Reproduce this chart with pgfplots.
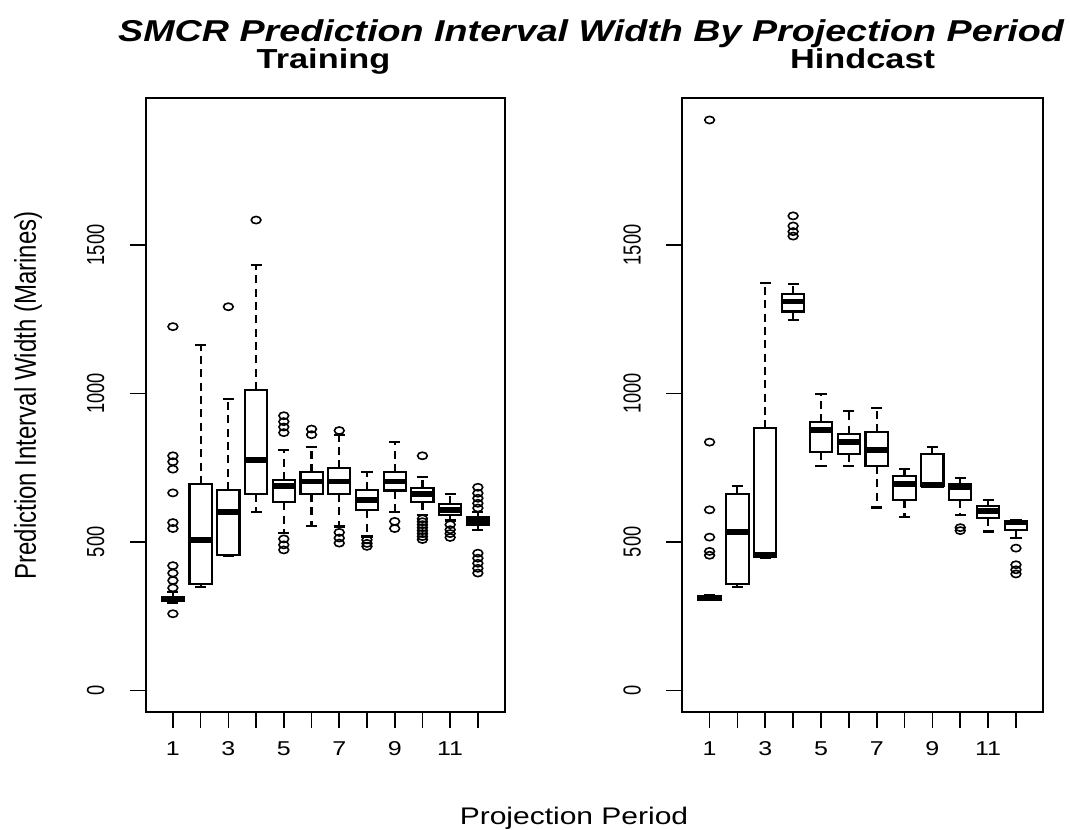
\documentclass[border=0pt]{standalone}
\usepackage{fontspec}
\setmainfont{Liberation Sans}[FakeStretch=1.25]
\newfontfamily\rotfont{Liberation Sans}[FakeStretch=0.8]
\newfontfamily\rottick{Liberation Sans}[FakeStretch=0.74]
\usepackage{pgfplots}
\pgfplotsset{compat=1.18}
\usepgfplotslibrary{statistics}
\pgfplotsset{
  rbox/.style={black, solid, line width=1.6pt,
    boxplot/draw direction=y,
    boxplot/box extend=0.8, boxplot/whisker extend=0.4,
    boxplot/draw/median/.code={\draw[line width=4.2pt] (boxplot box cs:\pgfplotsboxplotvalue{median},0) -- (boxplot box cs:\pgfplotsboxplotvalue{median},1);},
    boxplot/draw/lower whisker/.code={\draw[dash pattern=on 6pt off 4pt] (boxplot cs:\pgfplotsboxplotvalue{lower quartile}) -- (boxplot cs:\pgfplotsboxplotvalue{lower whisker}); \draw (boxplot whisker cs:\pgfplotsboxplotvalue{lower whisker},0) -- (boxplot whisker cs:\pgfplotsboxplotvalue{lower whisker},1);},
    boxplot/draw/upper whisker/.code={\draw[dash pattern=on 6pt off 4pt] (boxplot cs:\pgfplotsboxplotvalue{upper quartile}) -- (boxplot cs:\pgfplotsboxplotvalue{upper whisker}); \draw (boxplot whisker cs:\pgfplotsboxplotvalue{upper whisker},0) -- (boxplot whisker cs:\pgfplotsboxplotvalue{upper whisker},1);},
  },
  rout/.style={only marks, mark=o, black, mark size=2.7pt, mark options={solid, line width=1.2pt, xscale=1.35}},
  rax/.style={anchor=south west, width=269.5pt, height=460.5pt, scale only axis,
    xmin=0.02, xmax=12.98, ymin=-72, ymax=1996,
    xtick={1,...,12}, xticklabels={1,,3,,5,,7,,9,,11,},
    ytick={0,500,1000,1500},
    tick align=outside, tick pos=left, major tick length=12pt,
    tick style={black, line width=1.2pt},
    axis line style={line width=1.6pt},
    /pgf/number format/assume math mode=true,
    /pgf/number format/1000 sep={},
    xticklabel shift=7pt, yticklabel shift=15.5pt,
    xticklabel style={font=\fontsize{15pt}{17pt}\selectfont},
    yticklabel style={rotate=90, anchor=south, font=\rottick\fontsize{18.5pt}{21pt}\selectfont},
    clip=false},
}
\begin{document}
\begin{tikzpicture}
\path[use as bounding box] (0,0) rectangle (802.5pt,622.5pt);
% Training
\begin{axis}[rax, at={(109.3pt,88.7pt)}]
\addplot[rbox, boxplot prepared={draw position=1, lower whisker=295, lower quartile=300, median=308, upper quartile=315, upper whisker=330}] coordinates {};
\addplot[rbox, boxplot prepared={draw position=2, lower whisker=348, lower quartile=358, median=506, upper quartile=695, upper whisker=1163}] coordinates {};
\addplot[rbox, boxplot prepared={draw position=3, lower whisker=452, lower quartile=457, median=600, upper quartile=675, upper whisker=980}] coordinates {};
\addplot[rbox, boxplot prepared={draw position=4, lower whisker=600, lower quartile=661, median=776, upper quartile=1012, upper whisker=1433}] coordinates {};
\addplot[rbox, boxplot prepared={draw position=5, lower whisker=530, lower quartile=633, median=689, upper quartile=709, upper whisker=810}] coordinates {};
\addplot[rbox, boxplot prepared={draw position=6, lower whisker=554, lower quartile=661, median=704, upper quartile=735, upper whisker=821}] coordinates {};
\addplot[rbox, boxplot prepared={draw position=7, lower whisker=552, lower quartile=661, median=704, upper quartile=748, upper whisker=860}] coordinates {};
\addplot[rbox, boxplot prepared={draw position=8, lower whisker=518, lower quartile=606, median=642, upper quartile=675, upper whisker=735}] coordinates {};
\addplot[rbox, boxplot prepared={draw position=9, lower whisker=600, lower quartile=673, median=704, upper quartile=735, upper whisker=836}] coordinates {};
\addplot[rbox, boxplot prepared={draw position=10, lower whisker=590, lower quartile=633, median=662, upper quartile=681, upper whisker=720}] coordinates {};
\addplot[rbox, boxplot prepared={draw position=11, lower whisker=572, lower quartile=591, median=608, upper quartile=627, upper whisker=661}] coordinates {};
\addplot[rbox, boxplot prepared={draw position=12, lower whisker=540, lower quartile=558, median=570, upper quartile=584, upper whisker=600}] coordinates {};
\addplot[rout] coordinates {
(1,258) (1,345) (1,370) (1,395) (1,420) (1,545) (1,565) (1,665) (1,745) (1,770) (1,790) (1,1225)
(3,1292) (4,1584)
(5,925) (5,905) (5,887) (5,868) (5,510) (5,490) (5,473)
(6,880) (6,861)
(7,875) (7,532) (7,513) (7,496)
(8,507) (8,495) (8,485)
(9,569) (9,545)
(10,790) (10,578) (10,568) (10,558) (10,548) (10,538) (10,528) (10,518) (10,508)
(11,558) (11,541) (11,528) (11,515)
(12,614) (12,630) (12,647) (12,664) (12,684) (12,462) (12,445) (12,428) (12,411) (12,395)
};
\end{axis}
% Hindcast
\begin{axis}[rax, at={(511.7pt,88.7pt)}, width=270.75pt]
\addplot[rbox, boxplot prepared={draw position=1, lower whisker=305, lower quartile=305, median=312, upper quartile=318, upper whisker=320}] coordinates {};
\addplot[rbox, boxplot prepared={draw position=2, lower whisker=347, lower quartile=358, median=533, upper quartile=661, upper whisker=687}] coordinates {};
\addplot[rbox, boxplot prepared={draw position=3, lower whisker=445, lower quartile=450, median=456, upper quartile=883, upper whisker=1371}] coordinates {};
\addplot[rbox, boxplot prepared={draw position=4, lower whisker=1248, lower quartile=1276, median=1309, upper quartile=1335, upper whisker=1369}] coordinates {};
\addplot[rbox, boxplot prepared={draw position=5, lower whisker=756, lower quartile=802, median=877, upper quartile=903, upper whisker=998}] coordinates {};
\addplot[rbox, boxplot prepared={draw position=6, lower whisker=756, lower quartile=796, median=836, upper quartile=864, upper whisker=942}] coordinates {};
\addplot[rbox, boxplot prepared={draw position=7, lower whisker=616, lower quartile=756, median=810, upper quartile=870, upper whisker=950}] coordinates {};
\addplot[rbox, boxplot prepared={draw position=8, lower whisker=584, lower quartile=642, median=696, upper quartile=723, upper whisker=746}] coordinates {};
\addplot[rbox, boxplot prepared={draw position=9, lower whisker=685, lower quartile=688, median=692, upper quartile=796, upper whisker=821}] coordinates {};
\addplot[rbox, boxplot prepared={draw position=10, lower whisker=590, lower quartile=642, median=683, upper quartile=695, upper whisker=715}] coordinates {};
\addplot[rbox, boxplot prepared={draw position=11, lower whisker=535, lower quartile=580, median=605, upper quartile=622, upper whisker=642}] coordinates {};
\addplot[rbox, boxplot prepared={draw position=12, lower whisker=513, lower quartile=541, median=565, upper quartile=570, upper whisker=572}] coordinates {};
\addplot[rout] coordinates {
(1,1921) (1,836) (1,608) (1,516) (1,468) (1,455)
(4,1598) (4,1564) (4,1545) (4,1530)
(10,548) (10,538)
(12,479) (12,423) (12,406) (12,392)
};
\end{axis}
\node[anchor=base, font=\fontsize{22.6pt}{26pt}\selectfont\bfseries\itshape] at (443.3pt,591.5pt) {SMCR Prediction Interval Width By Projection Period};
\node[anchor=base, font=\fontsize{20.6pt}{24pt}\selectfont\bfseries] at (242.6pt,571pt) {Training};
\node[anchor=base, font=\fontsize{20.6pt}{24pt}\selectfont\bfseries] at (646.9pt,571pt) {Hindcast};
\node[anchor=base, font=\fontsize{18pt}{21pt}\selectfont] at (430.5pt,4pt) {Projection Period};
\node[rotate=90, anchor=center, font=\rotfont\fontsize{22.5pt}{26pt}\selectfont] at (21pt,326pt) {Prediction Interval Width (Marines)};
\end{tikzpicture}
\end{document}
